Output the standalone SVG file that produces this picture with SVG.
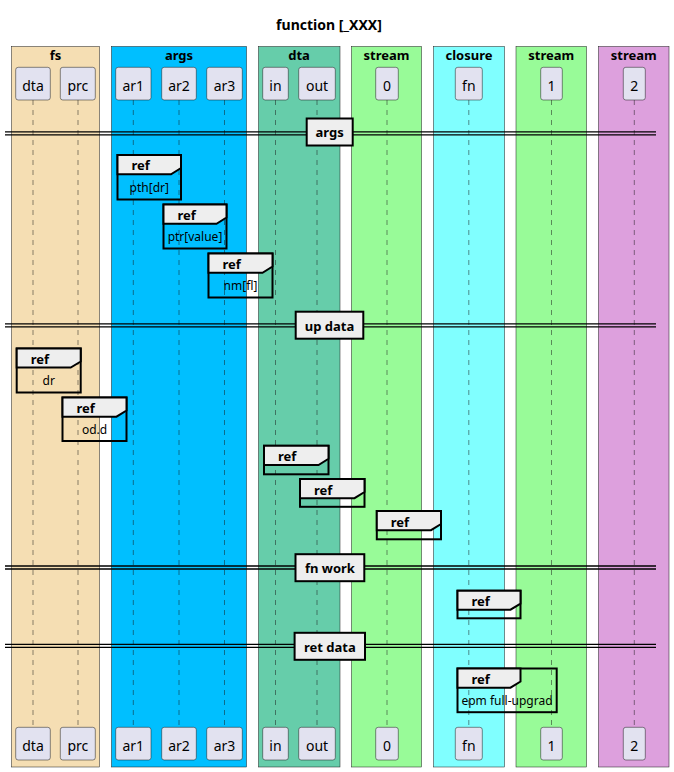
<svg xmlns="http://www.w3.org/2000/svg" width="674" height="772" viewBox="0 0 674 772">
<style>
text{font-family:"Noto Sans","Open Sans","DejaVu Sans",sans-serif;fill:#000}
.title{font-size:14px;font-weight:bold;text-anchor:middle}
.blabel{font-size:13px;font-weight:bold;text-anchor:middle}
.grp{stroke:#181818;stroke-width:0.5}
.part{fill:#E2E2F0;stroke:#181818;stroke-width:0.5}
.pname{font-size:14px;text-anchor:middle}
.life{stroke:#181818;stroke-width:0.5;stroke-dasharray:5,5;fill:none}
.refbox{fill:none;stroke:#000;stroke-width:2}
.refhead{fill:#EEEEEE;stroke:#000;stroke-width:2}
.reft{font-size:13px;font-weight:bold}
.refc{font-size:12px;text-anchor:middle}
.dline{stroke:#000;stroke-width:1.3}
.dbox{fill:#EEEEEE;stroke:#000;stroke-width:2}
.dlabel{font-size:13px;font-weight:bold;text-anchor:middle}
</style>
<rect width="674" height="772" fill="#FFFFFF"/>
<text class="title" x="329" y="30">function [_XXX]</text>

<g id="box-fs"><rect class="grp" x="11.5" y="46.5" width="88" height="720.5" fill="#F5DEB3"/><text class="blabel" x="55.5" y="60">fs</text></g>
<g id="box-args"><rect class="grp" x="111.5" y="46.5" width="135" height="720.5" fill="#00BFFF"/><text class="blabel" x="179" y="60">args</text></g>
<g id="box-dta"><rect class="grp" x="258.5" y="46.5" width="81.5" height="720.5" fill="#66CDAA"/><text class="blabel" x="299" y="60">dta</text></g>
<g id="box-stream0"><rect class="grp" x="351.5" y="46.5" width="70" height="720.5" fill="#98FB98"/><text class="blabel" x="386.5" y="60">stream</text></g>
<g id="box-closure"><rect class="grp" x="433.5" y="46.5" width="71" height="720.5" fill="#80FFFF"/><text class="blabel" x="469" y="60">closure</text></g>
<g id="box-stream1"><rect class="grp" x="516" y="46.5" width="70.5" height="720.5" fill="#98FB98"/><text class="blabel" x="551.3" y="60">stream</text></g>
<g id="box-stream2"><rect class="grp" x="598.5" y="46.5" width="70.5" height="720.5" fill="#DDA0DD"/><text class="blabel" x="633.7" y="60">stream</text></g>

<g id="lifelines">
<line class="life" x1="33" y1="100" x2="33" y2="727"/>
<line class="life" x1="78" y1="100" x2="78" y2="727"/>
<line class="life" x1="133.3" y1="100" x2="133.3" y2="727"/>
<line class="life" x1="179" y1="100" x2="179" y2="727"/>
<line class="life" x1="224.5" y1="100" x2="224.5" y2="727"/>
<line class="life" x1="275.5" y1="100" x2="275.5" y2="727"/>
<line class="life" x1="317" y1="100" x2="317" y2="727"/>
<line class="life" x1="387" y1="100" x2="387" y2="727"/>
<line class="life" x1="468.8" y1="100" x2="468.8" y2="727"/>
<line class="life" x1="551.5" y1="100" x2="551.5" y2="727"/>
<line class="life" x1="634.3" y1="100" x2="634.3" y2="727"/>
</g>

<g id="p-dta"><rect class="part" x="15.7" y="67.3" width="34.6" height="32.7" rx="2.5"/><text class="pname" x="33" y="90.5">dta</text><rect class="part" x="15.7" y="727.3" width="34.6" height="32.7" rx="2.5"/><text class="pname" x="33" y="750.5">dta</text></g>
<g id="p-prc"><rect class="part" x="60.3" y="67.3" width="35" height="32.7" rx="2.5"/><text class="pname" x="77.8" y="90.5">prc</text><rect class="part" x="60.3" y="727.3" width="35" height="32.7" rx="2.5"/><text class="pname" x="77.8" y="750.5">prc</text></g>
<g id="p-ar1"><rect class="part" x="115.7" y="67.3" width="35.3" height="32.7" rx="2.5"/><text class="pname" x="133.3" y="90.5">ar1</text><rect class="part" x="115.7" y="727.3" width="35.3" height="32.7" rx="2.5"/><text class="pname" x="133.3" y="750.5">ar1</text></g>
<g id="p-ar2"><rect class="part" x="161.7" y="67.3" width="34.6" height="32.7" rx="2.5"/><text class="pname" x="179" y="90.5">ar2</text><rect class="part" x="161.7" y="727.3" width="34.6" height="32.7" rx="2.5"/><text class="pname" x="179" y="750.5">ar2</text></g>
<g id="p-ar3"><rect class="part" x="206.7" y="67.3" width="35.6" height="32.7" rx="2.5"/><text class="pname" x="224.5" y="90.5">ar3</text><rect class="part" x="206.7" y="727.3" width="35.6" height="32.7" rx="2.5"/><text class="pname" x="224.5" y="750.5">ar3</text></g>
<g id="p-in"><rect class="part" x="262.7" y="67.3" width="25.6" height="32.7" rx="2.5"/><text class="pname" x="275.5" y="90.5">in</text><rect class="part" x="262.7" y="727.3" width="25.6" height="32.7" rx="2.5"/><text class="pname" x="275.5" y="750.5">in</text></g>
<g id="p-out"><rect class="part" x="298.7" y="67.3" width="36.6" height="32.7" rx="2.5"/><text class="pname" x="317" y="90.5">out</text><rect class="part" x="298.7" y="727.3" width="36.6" height="32.7" rx="2.5"/><text class="pname" x="317" y="750.5">out</text></g>
<g id="p-0"><rect class="part" x="375.7" y="67.3" width="22.6" height="32.7" rx="2.5"/><text class="pname" x="387" y="90.5">0</text><rect class="part" x="375.7" y="727.3" width="22.6" height="32.7" rx="2.5"/><text class="pname" x="387" y="750.5">0</text></g>
<g id="p-fn"><rect class="part" x="455.3" y="67.3" width="27" height="32.7" rx="2.5"/><text class="pname" x="468.8" y="90.5">fn</text><rect class="part" x="455.3" y="727.3" width="27" height="32.7" rx="2.5"/><text class="pname" x="468.8" y="750.5">fn</text></g>
<g id="p-1"><rect class="part" x="540.7" y="67.3" width="21.6" height="32.7" rx="2.5"/><text class="pname" x="551.5" y="90.5">1</text><rect class="part" x="540.7" y="727.3" width="21.6" height="32.7" rx="2.5"/><text class="pname" x="551.5" y="750.5">1</text></g>
<g id="p-2"><rect class="part" x="623.3" y="67.3" width="22" height="32.7" rx="2.5"/><text class="pname" x="634.3" y="90.5">2</text><rect class="part" x="623.3" y="727.3" width="22" height="32.7" rx="2.5"/><text class="pname" x="634.3" y="750.5">2</text></g>

<g id="dividers">
<g id="div-args"><line class="dline" x1="5" y1="131.8" x2="656" y2="131.8"/><line class="dline" x1="5" y1="134.8" x2="656" y2="134.8"/><rect class="dbox" x="306.7" y="118.5" width="46" height="27"/><text class="dlabel" x="329.7" y="137.3">args</text></g>
<g id="div-up"><line class="dline" x1="5" y1="323.8" x2="656" y2="323.8"/><line class="dline" x1="5" y1="326.8" x2="656" y2="326.8"/><rect class="dbox" x="295.7" y="311.7" width="67.6" height="27"/><text class="dlabel" x="329.5" y="330.5">up data</text></g>
<g id="div-fn"><line class="dline" x1="5" y1="566" x2="656" y2="566"/><line class="dline" x1="5" y1="569" x2="656" y2="569"/><rect class="dbox" x="295.5" y="554.2" width="68.8" height="27"/><text class="dlabel" x="329.9" y="573">fn work</text></g>
<g id="div-ret"><line class="dline" x1="5" y1="644.3" x2="656" y2="644.3"/><line class="dline" x1="5" y1="647.3" x2="656" y2="647.3"/><rect class="dbox" x="294.6" y="632.8" width="70.4" height="27"/><text class="dlabel" x="329.8" y="651.6">ret data</text></g>
</g>

<g id="ref-pth"><rect class="refbox" x="117.5" y="155" width="63.5" height="44.5"/><polygon class="refhead" points="117.5,155 181,155 181,168 171,174.3 117.5,174.3"/><text class="reft" x="131.5" y="170.3">ref</text><text class="refc" x="149.3" y="191.7">pth[dr]</text></g>
<g id="ref-ptr"><rect class="refbox" x="163.5" y="204.5" width="63" height="44"/><polygon class="refhead" points="163.5,204.5 226.5,204.5 226.5,217.5 216.5,223.8 163.5,223.8"/><text class="reft" x="177.5" y="219.8">ref</text><text class="refc" x="195" y="241">ptr[value]</text></g>
<g id="ref-nm"><rect class="refbox" x="208.5" y="253.5" width="64" height="44"/><polygon class="refhead" points="208.5,253.5 272.5,253.5 272.5,266.5 262.5,272.8 208.5,272.8"/><text class="reft" x="222.5" y="268.8">ref</text><text class="refc" x="240.5" y="290">nm[fl]</text></g>
<g id="ref-dr"><rect class="refbox" x="16.7" y="348.5" width="64" height="44"/><polygon class="refhead" points="16.7,348.5 80.7,348.5 80.7,361.5 70.7,367.5 16.7,367.5"/><text class="reft" x="30.7" y="363.8">ref</text><text class="refc" x="48.7" y="385">dr</text></g>
<g id="ref-odd"><rect class="refbox" x="62.5" y="397.5" width="64" height="43.5"/><polygon class="refhead" points="62.5,397.5 126.5,397.5 126.5,410.5 116.5,416.7 62.5,416.7"/><text class="reft" x="76.5" y="412.8">ref</text><text class="refc" x="94.5" y="434">od.d</text></g>
<g id="ref-in"><rect class="refbox" x="264" y="445.8" width="64.5" height="28.5"/><polygon class="refhead" points="264,445.8 328.5,445.8 328.5,458.8 318.5,465 264,465"/><text class="reft" x="278" y="461.3">ref</text></g>
<g id="ref-out"><rect class="refbox" x="300" y="479" width="64.5" height="27.8"/><polygon class="refhead" points="300,479 364.5,479 364.5,492 354.5,498.2 300,498.2"/><text class="reft" x="314" y="494.5">ref</text></g>
<g id="ref-0"><rect class="refbox" x="376.8" y="511" width="64.2" height="28.3"/><polygon class="refhead" points="376.8,511 441,511 441,524 431,530.2 376.8,530.2"/><text class="reft" x="390.8" y="526.5">ref</text></g>
<g id="ref-fn"><rect class="refbox" x="457.5" y="590.7" width="63" height="27.6"/><polygon class="refhead" points="457.5,590.7 520.5,590.7 520.5,603.7 510.5,609.7 457.5,609.7"/><text class="reft" x="471.5" y="606">ref</text></g>
<g id="ref-epm"><rect class="refbox" x="457.5" y="668.5" width="99.2" height="43.7"/><polygon class="refhead" points="457.5,668.5 520.5,668.5 520.5,681.5 510.5,687.7 457.5,687.7"/><text class="reft" x="471.5" y="684">ref</text><text class="refc" x="507" y="704.5">epm full-upgrad</text></g>
</svg>
